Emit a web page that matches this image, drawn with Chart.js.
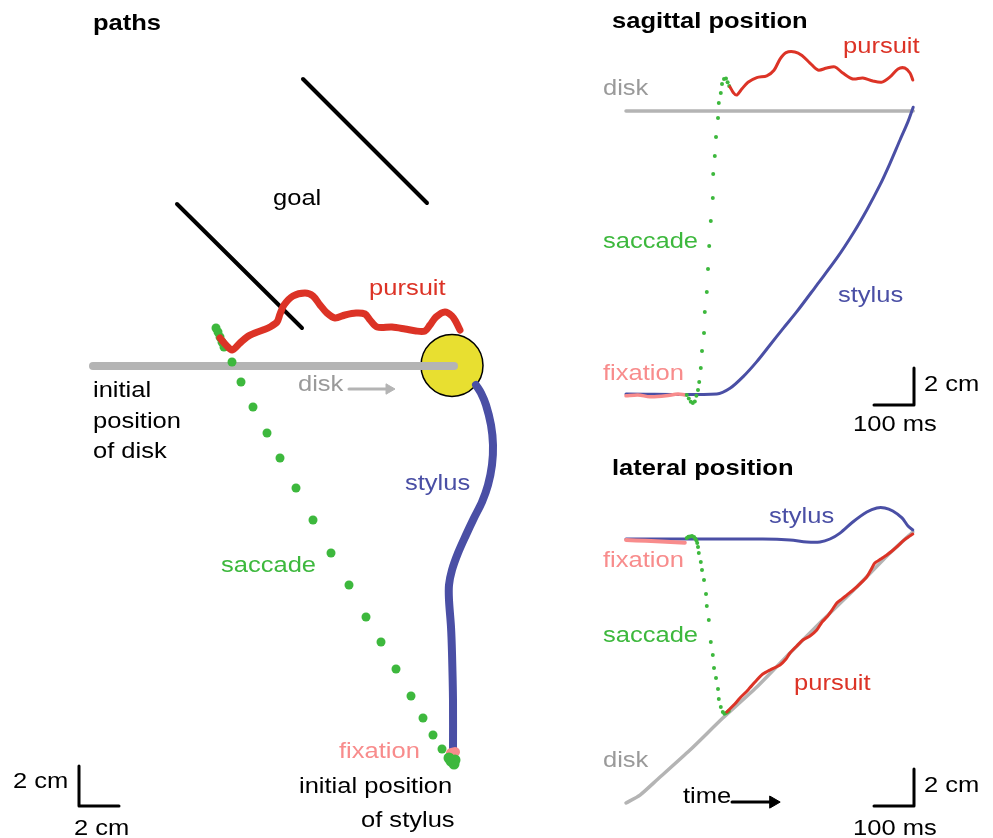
<!DOCTYPE html>
<html>
<head>
<meta charset="utf-8">
<script src="https://cdn.jsdelivr.net/npm/chart.js@4/dist/chart.umd.min.js"></script>
<style>
  body { margin: 0; background: #fff; }
  #wrap { position: relative; width: 993px; height: 838px; overflow: hidden; }
  canvas { position: absolute; }
  .t { position: absolute; font-family: "Liberation Sans", Arial, sans-serif; font-size: 22px; line-height: 22px;
       white-space: nowrap; transform: scaleX(1.16); transform-origin: left top; color: #000; }
  .b { font-weight: bold; }
  .red { color: #dc3326; } .blue { color: #4a4fa5; } .green { color: #3db83d; }
  .pink { color: #f88c8c; } .grey { color: #9a9a9a; }
</style>
</head>
<body>
<div id="wrap">
  <canvas id="paths" width="560" height="838" style="left:0;top:0"></canvas>
  <canvas id="sagittal" width="403" height="440" style="left:590px;top:0"></canvas>
  <canvas id="lateral" width="403" height="398" style="left:590px;top:440px"></canvas>

  <div class="t b" style="left:93px;top:12px">paths</div>
  <div class="t" style="left:273px;top:187px">goal</div>
  <div class="t red" style="left:369px;top:277px">pursuit</div>
  <div class="t" style="left:93px;top:379px">initial</div>
  <div class="t" style="left:93px;top:410px">position</div>
  <div class="t" style="left:93px;top:440px">of disk</div>
  <div class="t grey" style="left:298px;top:373px">disk</div>
  <div class="t blue" style="left:405px;top:472px">stylus</div>
  <div class="t green" style="left:221px;top:554px">saccade</div>
  <div class="t pink" style="left:339px;top:740px">fixation</div>
  <div class="t" style="left:299px;top:775px">initial position</div>
  <div class="t" style="left:361px;top:809px">of stylus</div>
  <div class="t" style="left:13px;top:770px">2 cm</div>
  <div class="t" style="left:74px;top:817px">2 cm</div>

  <div class="t b" style="left:612px;top:10px">sagittal position</div>
  <div class="t red" style="left:843px;top:35px">pursuit</div>
  <div class="t grey" style="left:603px;top:77px">disk</div>
  <div class="t green" style="left:603px;top:230px">saccade</div>
  <div class="t blue" style="left:838px;top:284px">stylus</div>
  <div class="t pink" style="left:603px;top:362px">fixation</div>
  <div class="t" style="left:924px;top:373px">2 cm</div>
  <div class="t" style="left:853px;top:413px">100 ms</div>

  <div class="t b" style="left:612px;top:457px">lateral position</div>
  <div class="t blue" style="left:769px;top:505px">stylus</div>
  <div class="t pink" style="left:603px;top:549px">fixation</div>
  <div class="t green" style="left:603px;top:624px">saccade</div>
  <div class="t red" style="left:794px;top:672px">pursuit</div>
  <div class="t grey" style="left:603px;top:749px">disk</div>
  <div class="t" style="left:683px;top:785px">time</div>
  <div class="t" style="left:924px;top:774px">2 cm</div>
  <div class="t" style="left:853px;top:817px">100 ms</div>
</div>

<script>
// colours
const RED = '#dc3326';
const BLUE = '#4a4fa5';
const GREEN = '#3db83d';
const PINK = '#f88c8c';
const GREY = '#b4b4b4';
const YELLOW = '#e8df30';

// ---- paths panel: [x cm, y cm], origin at initial stylus position ----
const pathGoalA = [[-7.55, 34.15], [-1.35, 27.95]];
const pathGoalB = [[-13.85, 27.9], [-7.6, 21.7]];
const pathDiskTrack = [[-18.05, 19.8], [0.0, 19.8]];
const pathDiskCentre = [[-0.1, 19.83]];
const pathDiskArrow = [[-5.25, 18.65], [-3.4, 18.65]];
const pathDiskArrowHead = [[-3.25, 18.65]];
const pathPursuit = [
  [-11.7, 21.2], [-11.4, 20.85], [-11.1, 20.6], [-10.7, 20.95], [-10.35, 21.25], [-9.95, 21.45],
  [-9.55, 21.6], [-9.2, 21.75], [-8.85, 22.0], [-8.7, 22.4], [-8.5, 22.85], [-8.05, 23.3],
  [-7.45, 23.45], [-7.05, 23.3], [-6.7, 22.85], [-6.35, 22.45], [-5.95, 22.2], [-5.45, 22.35],
  [-4.9, 22.45], [-4.45, 22.4], [-4.2, 22.1], [-3.85, 21.75], [-3.1, 21.75], [-2.45, 21.65],
  [-1.9, 21.55], [-1.45, 21.55], [-1.2, 21.85], [-0.9, 22.25], [-0.45, 22.5], [-0.1, 22.3],
  [0.1, 22.0], [0.3, 21.6]
];
const pathStylus = [
  [-0.05, 0.0], [-0.05, 0.6], [-0.05, 3.1], [-0.1, 5.45], [-0.15, 6.75], [-0.25, 8.1],
  [-0.25, 8.85], [-0.1, 9.6], [0.2, 10.45], [0.6, 11.35], [1.0, 12.2], [1.4, 13.0],
  [1.7, 13.85], [1.9, 14.85], [1.95, 15.85], [1.85, 16.85], [1.6, 17.85], [1.35, 18.45], [1.1, 18.85]
];
const pathSaccade = [
  [0.0, -0.1], [-0.15, 0.05], [0.05, 0.1], [-0.25, 0.2], [-0.6, 0.65], [-1.05, 1.35],
  [-1.55, 2.2], [-2.15, 3.3], [-2.9, 4.65], [-3.65, 6.0], [-4.4, 7.25], [-5.25, 8.85],
  [-6.15, 10.45], [-7.05, 12.1], [-7.9, 13.7], [-8.7, 15.2], [-9.35, 16.45], [-10.05, 17.75],
  [-10.65, 19.0], [-11.1, 20.0], [-11.5, 20.75], [-11.6, 21.0], [-11.7, 21.25], [-11.8, 21.5], [-11.9, 21.7]
];
const pathFixation = [[-0.15, 0.45], [0.05, 0.5]];
const pathScaleBar = [[-18.75, -0.2], [-18.75, -2.2], [-16.75, -2.2]];

// ---- sagittal position: [time ms, position cm] ----
const sagDisk = [[0, 15.3], [718, 15.3]];
const sagFixation = [[0, -0.1], [30, -0.05], [60, -0.15], [100, -0.1], [130, 0.0], [147, -0.05]];
const sagStylus = [
  [0, 0], [227, 0], [260, 0.31], [293, 0.94], [327, 1.75], [360, 2.65], [393, 3.55],
  [427, 4.45], [477, 5.89], [527, 7.34], [568, 8.69], [602, 9.95], [635, 11.3],
  [660, 12.47], [685, 13.73], [705, 14.72], [718, 15.5]
];
const sagSaccade = [
  [152, -0.05], [157, -0.25], [162, -0.42], [167, -0.49], [172, -0.4], [176, -0.1],
  [180, 0.22], [183, 0.65], [187, 1.41], [190, 2.32], [195, 3.3], [197, 4.43],
  [202, 5.51], [205, 6.76], [208, 8.0], [212, 9.35], [217, 10.59], [218, 11.89],
  [222, 12.86], [225, 13.89], [230, 14.92], [232, 15.73], [237, 16.27], [240, 16.76],
  [245, 17.03], [250, 17.05], [254, 16.85], [258, 16.65]
];
const sagPursuit = [
  [260, 16.6], [268, 16.3], [277, 16.16], [290, 16.5], [305, 16.85], [327, 17.1],
  [352, 17.2], [370, 17.5], [385, 18.1], [400, 18.45], [422, 18.49], [440, 18.3], [460, 17.89],
  [480, 17.51], [502, 17.62], [522, 17.68], [542, 17.35], [567, 17.03], [592, 17.08],
  [617, 16.92], [640, 16.86], [660, 17.14], [680, 17.57], [697, 17.62], [710, 17.35], [717, 16.97]
];
const sagScaleBar = [[720, 1.41], [720, -0.59], [620, -0.59]];

// ---- lateral position: [time ms, position cm] ----
const latDisk = [
  [0, -14.27], [35, -13.84], [77, -13.03], [160, -11.41], [242, -9.68], [327, -8.0],
  [410, -6.16], [492, -4.38], [577, -2.59], [660, -0.76], [717, 0.38]
];
const latFixation = [[0, -0.05], [50, -0.1], [100, -0.15], [147, -0.2]];
const latStylus = [
  [0, 0], [342, 0], [410, -0.05], [452, -0.16], [485, -0.16], [510, 0], [535, 0.32],
  [567, 0.92], [602, 1.46], [627, 1.68], [647, 1.68], [667, 1.51], [690, 1.14], [705, 0.7], [717, 0.49]
];
const latSaccade = [
  [152, 0.05], [156, 0.12], [160, 0.14], [165, 0.16], [170, 0.11], [173, 0.03], [176, -0.08],
  [178, -0.22], [180, -0.43], [182, -0.76], [187, -1.24], [190, -1.68], [195, -2.22],
  [200, -2.97], [202, -3.62], [207, -4.38], [212, -5.57], [217, -6.27], [220, -6.97],
  [225, -7.51], [230, -8.11], [232, -8.65], [237, -9.08], [242, -9.35], [246, -9.45],
  [250, -9.41], [254, -9.35], [257, -9.3]
];
const latPursuit = [
  [252, -9.35], [272, -8.92], [285, -8.59], [305, -8.16], [327, -7.62], [342, -7.3],
  [360, -7.08], [385, -6.81], [400, -6.49], [410, -6.16], [427, -5.78], [442, -5.46],
  [460, -5.24], [477, -4.92], [490, -4.49], [502, -4.22], [515, -3.84], [527, -3.46],
  [540, -3.24], [552, -3.03], [565, -2.81], [577, -2.59], [590, -2.32], [602, -2.05],
  [612, -1.68], [622, -1.3], [637, -1.08], [652, -0.86], [665, -0.65], [677, -0.43],
  [690, -0.16], [702, 0.05], [717, 0.27]
];
const latTimeArrow = [[265, -14.22], [360, -14.22]];
const latTimeArrowHead = [[368, -14.22]];
const latScaleBar = [[720, -12.43], [720, -14.43], [620, -14.43]];

function pts(arr) {
  return arr.map((p) => ({ x: p[0], y: p[1] }));
}

function line(arr, color, width, tension) {
  return {
    data: pts(arr), showLine: true, borderColor: color, borderWidth: width,
    borderCapStyle: 'round', borderJoinStyle: 'round', tension: tension || 0, pointRadius: 0,
  };
}

function dots(arr, color, r) {
  return {
    data: pts(arr), showLine: false, pointRadius: r, pointBackgroundColor: color,
    pointBorderWidth: 0, pointBorderColor: color, backgroundColor: color,
  };
}

function arrowHead(arr, color, r) {
  return {
    data: pts(arr), showLine: false, pointStyle: 'triangle', rotation: 90, pointRadius: r,
    pointBackgroundColor: color, pointBorderColor: color, pointBorderWidth: 1,
  };
}

function makeChart(id, xRange, yRange, datasets) {
  return new Chart(document.getElementById(id), {
    type: 'scatter',
    data: {
      // later datasets are drawn on top
      datasets: datasets.map((d, i) => Object.assign({ order: -i, clip: false }, d)),
    },
    options: {
      responsive: false,
      animation: false,
      events: [],
      layout: { padding: 0, autoPadding: false },
      plugins: { legend: { display: false }, tooltip: { enabled: false } },
      scales: {
        x: { type: 'linear', display: false, min: xRange[0], max: xRange[1] },
        y: { type: 'linear', display: false, min: yRange[0], max: yRange[1] },
      },
    },
  });
}

makeChart('paths', [-22.7, 5.3], [-3.8, 38.1], [
  line(pathGoalA, '#000', 4),
  line(pathGoalB, '#000', 4),
  {
    data: pts(pathDiskCentre), showLine: false, pointRadius: 31,
    pointBackgroundColor: YELLOW, pointBorderColor: '#000', pointBorderWidth: 1.5,
  },
  line(pathDiskTrack, GREY, 8),
  line(pathDiskArrow, GREY, 3),
  arrowHead(pathDiskArrowHead, GREY, 6),
  dots(pathSaccade, GREEN, 4.5),
  line(pathPursuit, RED, 7, 0.3),
  line(pathStylus, BLUE, 8, 0.3),
  line(pathFixation, PINK, 10),
  dots(pathSaccade.slice(0, 4), GREEN, 5.5),
  line(pathScaleBar, '#000', 3),
]);

makeChart('sagittal', [-90, 917.5], [-2.4865, 21.297], [
  line(sagDisk, GREY, 3.5),
  line(sagStylus, BLUE, 3, 0.3),
  line(sagFixation, PINK, 3.5, 0.3),
  dots(sagSaccade, GREEN, 2),
  line(sagPursuit, RED, 3, 0.3),
  line(sagScaleBar, '#000', 3),
]);

makeChart('lateral', [-90, 917.5], [-16.162, 5.3514], [
  line(latDisk, GREY, 3.5, 0.2),
  line(latStylus, BLUE, 3, 0.3),
  line(latFixation, PINK, 4, 0.3),
  dots(latSaccade, GREEN, 2),
  line(latPursuit, RED, 3, 0.2),
  line(latTimeArrow, '#000', 3),
  arrowHead(latTimeArrowHead, '#000', 7),
  line(latScaleBar, '#000', 3),
]);
</script>
</body>
</html>
